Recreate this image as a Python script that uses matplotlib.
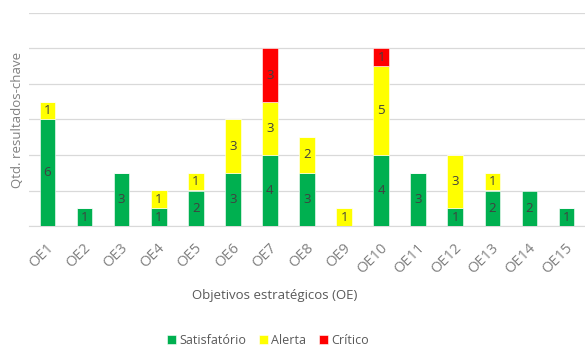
import matplotlib
matplotlib.use("Agg")
import matplotlib.pyplot as plt
import matplotlib.transforms as mtransforms
import numpy as np

categories = [f"OE{i}" for i in range(1, 16)]
satisfatorio = [6, 1, 3, 1, 2, 3, 4, 3, 0, 4, 3, 1, 2, 2, 1]
alerta = [1, 0, 0, 1, 1, 3, 3, 2, 1, 5, 0, 3, 1, 0, 0]
critico = [0, 0, 0, 0, 0, 0, 3, 0, 0, 1, 0, 0, 0, 0, 0]

series = [
    ("Satisfatório", satisfatorio, "#00B050"),
    ("Alerta", alerta, "#FFFF00"),
    ("Crítico", critico, "#FF0000"),
]

plt.rcParams["font.family"] = ["Open Sans", "DejaVu Sans"]

fig = plt.figure(figsize=(5.85, 3.46), dpi=100)
ax = fig.add_axes([29 / 585, 1 - 226 / 346, 1 - 29 / 585, (226 - 13) / 346])

x = np.arange(len(categories))
bottom = np.zeros(len(categories))
for name, vals, color in series:
    vals = np.array(vals, dtype=float)
    ax.bar(x, vals, width=0.42, bottom=bottom, color=color,
           label=name, zorder=3, edgecolor="white", linewidth=0.4)
    for xi, b, v in zip(x, bottom, vals):
        if v > 0:
            ax.text(xi, b + v / 2, f"{int(v)}", ha="center", va="center",
                    fontsize=9.5, color="#404040", zorder=4)
    bottom += vals

ax.set_xlim(-0.5, len(categories) - 0.5)
ax.set_ylim(0, 12)
ax.set_yticks(np.arange(0, 13, 2))
ax.set_yticklabels([])
ax.tick_params(axis="y", length=0)
ax.tick_params(axis="x", length=0, pad=14)
ax.grid(axis="y", color="#D9D9D9", linewidth=0.9, zorder=0)
for s in ["top", "right", "left"]:
    ax.spines[s].set_visible(False)
ax.spines["bottom"].set_color("#D9D9D9")

ax.set_xticks(x)
ax.set_xticklabels(categories, rotation=45, ha="right", va="center",
                   rotation_mode="anchor", fontsize=10.5, color="#808080")
shift = mtransforms.ScaledTranslation(4 / 100, 0, fig.dpi_scale_trans)
for lbl in ax.get_xticklabels():
    lbl.set_transform(lbl.get_transform() + shift)

ax.set_ylabel("Qtd. resultados-chave", fontsize=9.5, color="#808080", labelpad=0)

fig.text(275 / 585, 1 - 295 / 346, "Objetivos estratégicos (OE)", ha="center",
         va="center", fontsize=9.5, color="#595959")

fig.legend(loc="center", bbox_to_anchor=(268 / 585, 1 - 340 / 346), ncol=3,
           frameon=False, fontsize=9, handlelength=0.7, handleheight=0.7,
           handletextpad=0.3, columnspacing=1.0, labelcolor="#595959")

fig.savefig("out.png", dpi=100)
